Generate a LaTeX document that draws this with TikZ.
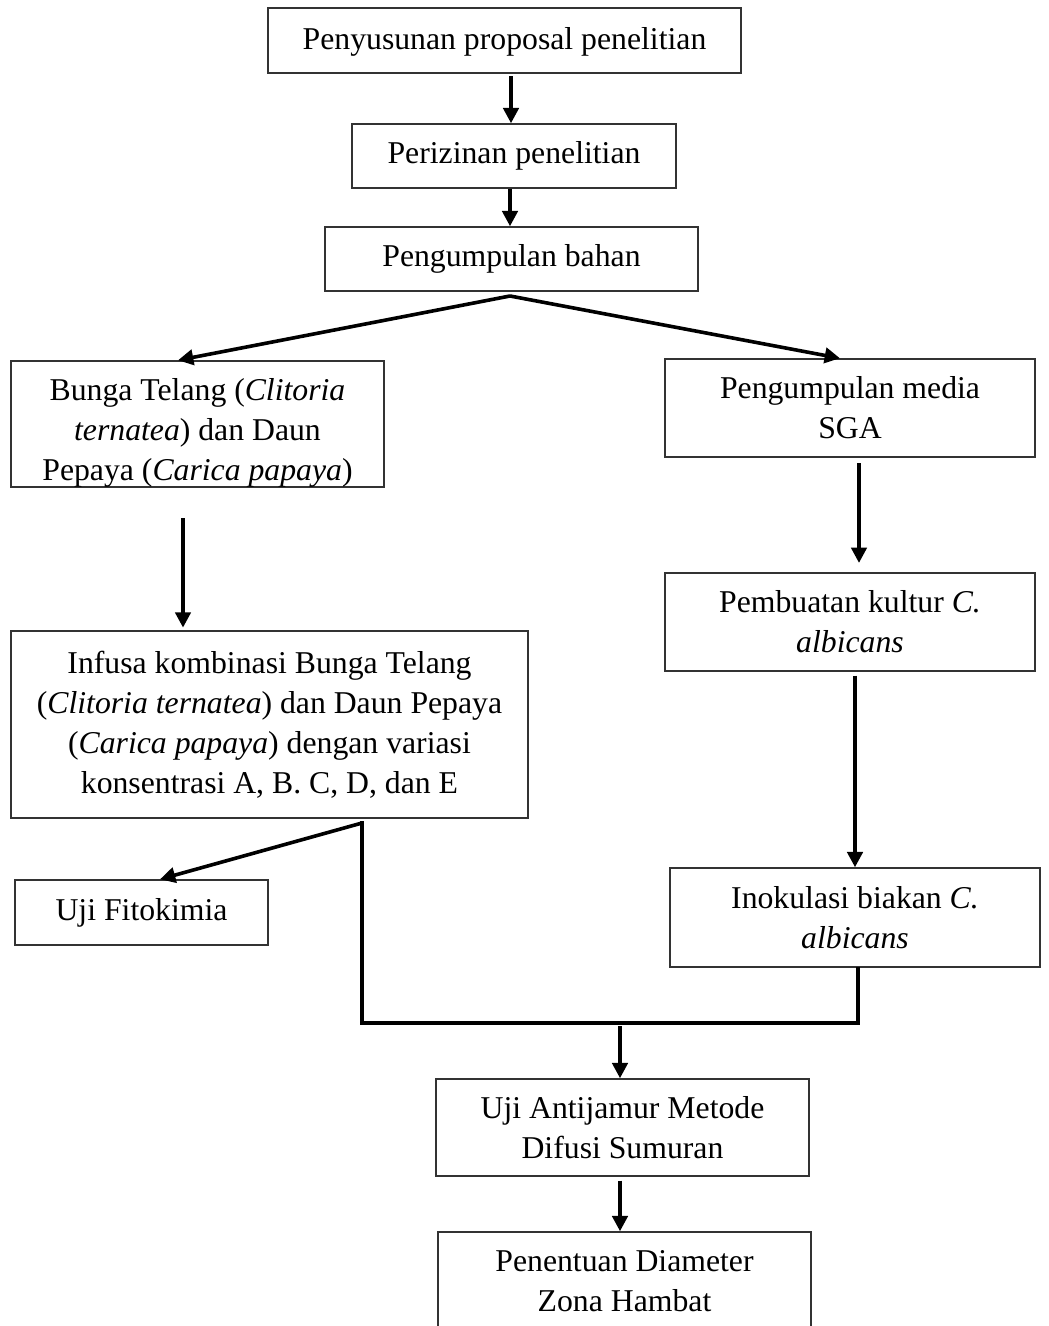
\documentclass[tikz,border=0pt]{standalone}
\usepackage{fontspec}
\setmainfont{Liberation Serif}
\usetikzlibrary{arrows.meta}
\begin{document}
\begin{tikzpicture}[x=0.75pt,y=-0.75pt,
  box/.style={draw=black!80,line width=1.1pt,inner sep=0pt,align=center,
    font=\fontsize{23.8}{30}\selectfont},
  boxtext/.style={inner sep=0pt,align=center,font=\fontsize{23.8}{30}\selectfont},
  arr/.style={line width=2.7pt,-{Triangle[width=11.5pt,length=11.5pt]}},
  conn/.style={line width=2.7pt,line cap=rect}]
\useasboundingbox (0,0) rectangle (1048,1326);
% nodes
\node[box,minimum width=354.75pt,minimum height=48.75pt] (b1) at (504.5,40.5) {\rule{0pt}{19pt}Penyusunan proposal penelitian};
\node[box,minimum width=243pt,minimum height=48pt] (b2) at (514,156) {Perizinan penelitian};
\node[box,minimum width=279.75pt,minimum height=48pt] (b3) at (511.5,259) {Pengumpulan bahan};
\node[box,minimum width=279.75pt,minimum height=94.5pt] (bunga) at (197.5,424) {};
\node[boxtext,yshift=-7pt] (bungatext) at (bunga.center) {Bunga Telang (\textit{Clitoria}\\\textit{ternatea}) dan Daun\\Pepaya (\textit{Carica papaya})};
\node[box,minimum width=277.5pt,minimum height=73.5pt] (sga) at (850,408) {Pengumpulan media\\SGA};
\node[box,minimum width=387.75pt,minimum height=140.25pt] (infusa) at (269.5,724.5) {Infusa kombinasi Bunga Telang\\(\textit{Clitoria ternatea}) dan Daun Pepaya\\(\textit{Carica papaya}) dengan variasi\\konsentrasi A, B. C, D, dan E};
\node[box,minimum width=277.5pt,minimum height=73.5pt] (pemb) at (850,622) {Pembuatan kultur \textit{C.}\\\textit{albicans}};
\node[box,minimum width=277.5pt,minimum height=74.25pt] (inok) at (855,917.5) {Inokulasi biakan \textit{C.}\\\textit{albicans}};
\node[box,minimum width=189.75pt,minimum height=48.75pt] (fito) at (141.5,912.5) {Uji Fitokimia};
\node[box,minimum width=279.75pt,minimum height=72.75pt] (anti) at (622.5,1127.5) {Uji Antijamur Metode\\Difusi Sumuran};
\node[box,minimum width=279.75pt,minimum height=73.5pt] (pen) at (624.5,1281) {Penentuan Diameter\\Zona Hambat};
% helper coordinates
\coordinate (xa) at (511,0);
\coordinate (xb) at (510,0);
\coordinate (split) at (510,296);
\coordinate (tl) at (178,0);
\coordinate (tr) at (840,0);
\coordinate (xc) at (183,0);
\coordinate (xd) at (859,0);
\coordinate (xe) at (855,0);
\coordinate (join) at (362,823);
\coordinate (tf) at (160,0);
\coordinate (corner1) at (362,1023);
\coordinate (xr) at (858,0);
\coordinate (xm) at (620,0);
\coordinate (mid) at (620,1025);
% connectors
\draw[arr,shorten <=2pt] (b1.south -| xa) -- (b2.north -| xa);
\draw[arr] (b2.south -| xb) -- (b3.north -| xb);
\draw[arr] (split) -- (bunga.north -| tl);
\draw[arr] (split) -- (sga.north -| tr);
\draw[arr,shorten <=23pt,shorten >=2pt] (bunga.south -| xc) -- (infusa.north -| xc);
\draw[arr,shorten <=4pt,shorten >=7pt] (sga.south -| xd) -- (pemb.north -| xd);
\draw[arr,shorten <=3pt] (pemb.south -| xe) -- (inok.north -| xe);
\draw[arr] (join) -- (fito.north -| tf);
\draw[conn] (join) -- (corner1) -- (corner1 -| xr) -- ([yshift=-1pt]inok.south -| xr);
\draw[arr,shorten <=1pt] (mid) -- (anti.north -| xm);
\draw[arr,shorten <=3pt] (anti.south -| xm) -- (pen.north -| xm);
\end{tikzpicture}
\end{document}
